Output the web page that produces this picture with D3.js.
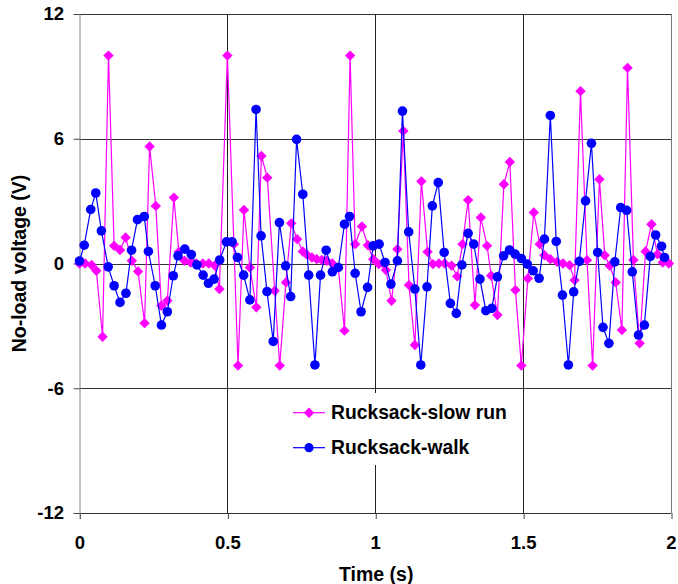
<!DOCTYPE html>
<html>
<head>
<meta charset="utf-8">
<script src="https://cdn.jsdelivr.net/npm/d3@7"></script>
<style>
  html, body { margin: 0; padding: 0; background: #fff; }
  svg { display: block; }
  text { font-family: "Liberation Sans", Arial, sans-serif; font-weight: bold; fill: #000; }
</style>
</head>
<body>
<svg id="chart" width="678" height="584"></svg>
<script>
// ---- Data ----
const seriesNames = ["Rucksack-slow run", "Rucksack-walk"];

const slowRunTime = [0,0.019,0.041,0.057,0.078,0.098,0.117,0.137,0.156,0.177,0.198,0.22,0.237,0.258,0.277,0.297,0.319,0.336,0.355,0.376,0.395,0.417,0.437,0.457,0.473,0.5,0.522,0.536,0.556,0.576,0.598,0.615,0.635,0.66,0.677,0.698,0.716,0.736,0.755,0.767,0.786,0.802,0.819,0.836,0.855,0.875,0.896,0.915,0.932,0.955,0.975,0.993,1.012,1.036,1.055,1.075,1.095,1.114,1.134,1.156,1.177,1.195,1.215,1.235,1.258,1.277,1.295,1.314,1.337,1.357,1.378,1.392,1.413,1.435,1.455,1.474,1.494,1.516,1.536,1.556,1.572,1.592,1.615,1.635,1.657,1.674,1.694,1.716,1.735,1.758,1.776,1.793,1.813,1.834,1.853,1.873,1.894,1.914,1.934,1.954,1.972,1.993];
const slowRunVoltage = [0,0,-0.07,-0.35,-3.52,10,0.85,0.65,1.25,0.13,-0.38,-2.87,5.63,2.77,-2.03,-1.79,3.17,0.56,0.13,0.05,0,0,0,-0.1,-1.23,10,0.93,-4.91,2.57,-0.19,-2.11,5.17,4.13,-1.31,-4.91,-0.91,1.93,1.17,0.58,0.45,0.29,0.21,0.17,0.13,0,-0.2,-3.23,10,0.93,1.78,0.88,0.21,-0.03,-0.31,-1.79,0.69,6.37,-1.04,-3.92,3.95,0.56,-0.03,0,0,-0.1,-0.62,0.93,3.05,-2.0,2.21,0.85,-0.59,-2.48,3.81,4.88,-1.28,-4.91,-0.72,2.45,0.93,0.4,0.21,0.08,0,-0.08,-0.8,8.29,0.16,-4.91,4.05,0.4,-0.11,-0.91,-3.2,9.41,0.17,-3.84,0.58,1.89,0.45,0.05,0];

const walkTime = [0,0.016,0.038,0.055,0.074,0.097,0.117,0.137,0.157,0.176,0.196,0.219,0.233,0.256,0.277,0.297,0.317,0.333,0.356,0.378,0.397,0.418,0.436,0.455,0.474,0.497,0.516,0.534,0.555,0.576,0.597,0.614,0.634,0.655,0.676,0.697,0.714,0.734,0.755,0.775,0.796,0.815,0.834,0.855,0.875,0.896,0.913,0.932,0.952,0.974,0.993,1.013,1.033,1.053,1.075,1.092,1.113,1.134,1.154,1.175,1.193,1.213,1.233,1.254,1.274,1.293,1.314,1.333,1.354,1.374,1.394,1.413,1.434,1.454,1.473,1.494,1.514,1.534,1.554,1.572,1.592,1.612,1.633,1.653,1.671,1.69,1.711,1.731,1.752,1.77,1.79,1.81,1.83,1.85,1.869,1.89,1.91,1.93,1.948,1.968,1.978];
const walkVoltage = [0.12,0.88,2.6,3.39,1.57,-0.16,-1.07,-1.87,-1.43,0.64,2.11,2.26,0.58,-1.07,-2.96,-2.32,-0.59,0.37,0.69,0.43,-0.07,-0.56,-0.95,-0.75,0.17,1.04,1.04,0.29,-0.56,-1.75,7.41,1.33,-1.35,-3.75,1.97,-0.11,-1.59,5.97,3.33,-0.56,-4.88,-0.56,0.64,-0.4,-0.19,1.89,2.26,-0.47,-2.32,-1.15,0.85,0.93,0.05,-0.99,0.13,7.33,1.52,-1.23,-4.88,-1.12,2.77,3.89,0.53,-1.92,-2.4,-0.07,1.45,0.93,-0.75,-2.27,-2.16,-0.64,0.37,0.65,0.45,0.24,-0.03,-0.35,-0.71,1.17,7.12,1.06,-1.52,-4.88,-1.36,0.1,3.01,5.78,0.53,-3.07,-3.84,0.08,2.69,2.56,-0.4,-3.44,-2.96,0.34,1.37,0.83,0.29];

const xTickValues = [0, 0.5, 1, 1.5, 2];
const xTickLabels = ["0", "0.5", "1", "1.5", "2"];
const yTickValues = [-12, -6, 0, 6, 12];
const yTickLabels = ["-12", "-6", "0", "6", "12"];
const xTitle = "Time (s)";
const yTitle = "No-load voltage (V)";

// ---- Layout ----
const svg = d3.select("#chart");
const plot = { left: 79.5, right: 671, top: 14, bottom: 513 };
const x = d3.scaleLinear().domain([0, 2]).range([plot.left, plot.right]);
const y = d3.scaleLinear().domain([-12, 12]).range([plot.bottom, plot.top]);

const colors = ["#FF00FF", "#0000FF"];

// gridlines
const grid = svg.append("g");
grid.selectAll("line.h").data(yTickValues).enter().append("line")
  .attr("x1", plot.left).attr("x2", plot.right)
  .attr("y1", d => Math.round(y(d)) + 0.5).attr("y2", d => Math.round(y(d)) + 0.5)
  .attr("stroke", "#333").attr("stroke-width", 1);
grid.selectAll("line.v").data(xTickValues.filter(d => d > 0)).enter().append("line")
  .attr("x1", d => Math.round(x(d)) + 0.5).attr("x2", d => Math.round(x(d)) + 0.5)
  .attr("y1", plot.top).attr("y2", plot.bottom)
  .attr("stroke", d => d === 2 ? "#777" : "#222").attr("stroke-width", 1);

// axes
const xAxis = d3.axisBottom(x).tickValues(xTickValues)
  .tickFormat((d, i) => xTickLabels[i]).tickSize(6).tickPadding(17);
const gx = svg.append("g").attr("transform", `translate(0,${plot.bottom})`).call(xAxis);
gx.select(".domain").remove();
gx.selectAll(".tick line").attr("stroke", "#444")
  .attr("transform", "translate(0.5,0)");
gx.selectAll(".tick text").attr("font-size", "18.5px")
  .attr("font-family", "'Liberation Sans', Arial, sans-serif").attr("font-weight", "bold").attr("fill", "#000");

const yAxis = d3.axisLeft(y).tickValues(yTickValues)
  .tickFormat((d, i) => yTickLabels[i]).tickSize(6).tickPadding(9.5).tickSizeOuter(0);
const gy = svg.append("g").attr("transform", `translate(${plot.left},0)`).call(yAxis);
gy.select(".domain").attr("stroke", "#808080").attr("d", `M0.5,${plot.top}V${plot.bottom + 6}`);
gy.selectAll(".tick line").attr("stroke", "#444");
gy.selectAll(".tick text").attr("font-size", "18.5px")
  .attr("font-family", "'Liberation Sans', Arial, sans-serif").attr("font-weight", "bold").attr("fill", "#000");

// axis titles
svg.append("text").attr("x", (plot.left + plot.right) / 2 + 1).attr("y", 581)
  .attr("text-anchor", "middle").attr("font-size", "19.5px").text(xTitle);
svg.append("text").attr("transform", `translate(25.5,${(plot.top + plot.bottom) / 2}) rotate(-90)`)
  .attr("text-anchor", "middle").attr("font-size", "19.5px").text(yTitle);

// series
const diamond = "M0,-5.2L5.2,0L0,5.2L-5.2,0Z";
const line = d3.line().x(d => x(d[0])).y(d => y(d[1]));

const slowData = slowRunTime.map((t, i) => [t, slowRunVoltage[i]]);
const walkData = walkTime.map((t, i) => [t, walkVoltage[i]]);

svg.append("path").datum(slowData).attr("d", line)
  .attr("fill", "none").attr("stroke", colors[0]).attr("stroke-width", 1.2);
svg.append("g").selectAll("path").data(slowData).enter().append("path")
  .attr("d", diamond).attr("transform", d => `translate(${x(d[0])},${y(d[1])})`)
  .attr("fill", colors[0]);

svg.append("path").datum(walkData).attr("d", line)
  .attr("fill", "none").attr("stroke", colors[1]).attr("stroke-width", 1.2);
svg.append("g").selectAll("circle").data(walkData).enter().append("circle")
  .attr("cx", d => x(d[0])).attr("cy", d => y(d[1])).attr("r", 4.8)
  .attr("fill", colors[1]);

// legend
const legend = svg.append("g");
legend.append("rect").attr("x", 284).attr("y", 393).attr("width", 236).attr("height", 72).attr("fill", "#fff");
const rows = [{ y: 412.7, shape: "diamond" }, { y: 447.7, shape: "circle" }];
rows.forEach((r, i) => {
  legend.append("line").attr("x1", 293).attr("x2", 325).attr("y1", r.y).attr("y2", r.y)
    .attr("stroke", colors[i]).attr("stroke-width", 1.2);
  if (r.shape === "diamond") {
    legend.append("path").attr("d", diamond).attr("transform", `translate(309,${r.y})`).attr("fill", colors[i]);
  } else {
    legend.append("circle").attr("cx", 309).attr("cy", r.y).attr("r", 4.6).attr("fill", colors[i]);
  }
  legend.append("text").attr("x", 331).attr("y", r.y + 6.7).attr("font-size", "19.3px").text(seriesNames[i]);
});
</script>
</body>
</html>
